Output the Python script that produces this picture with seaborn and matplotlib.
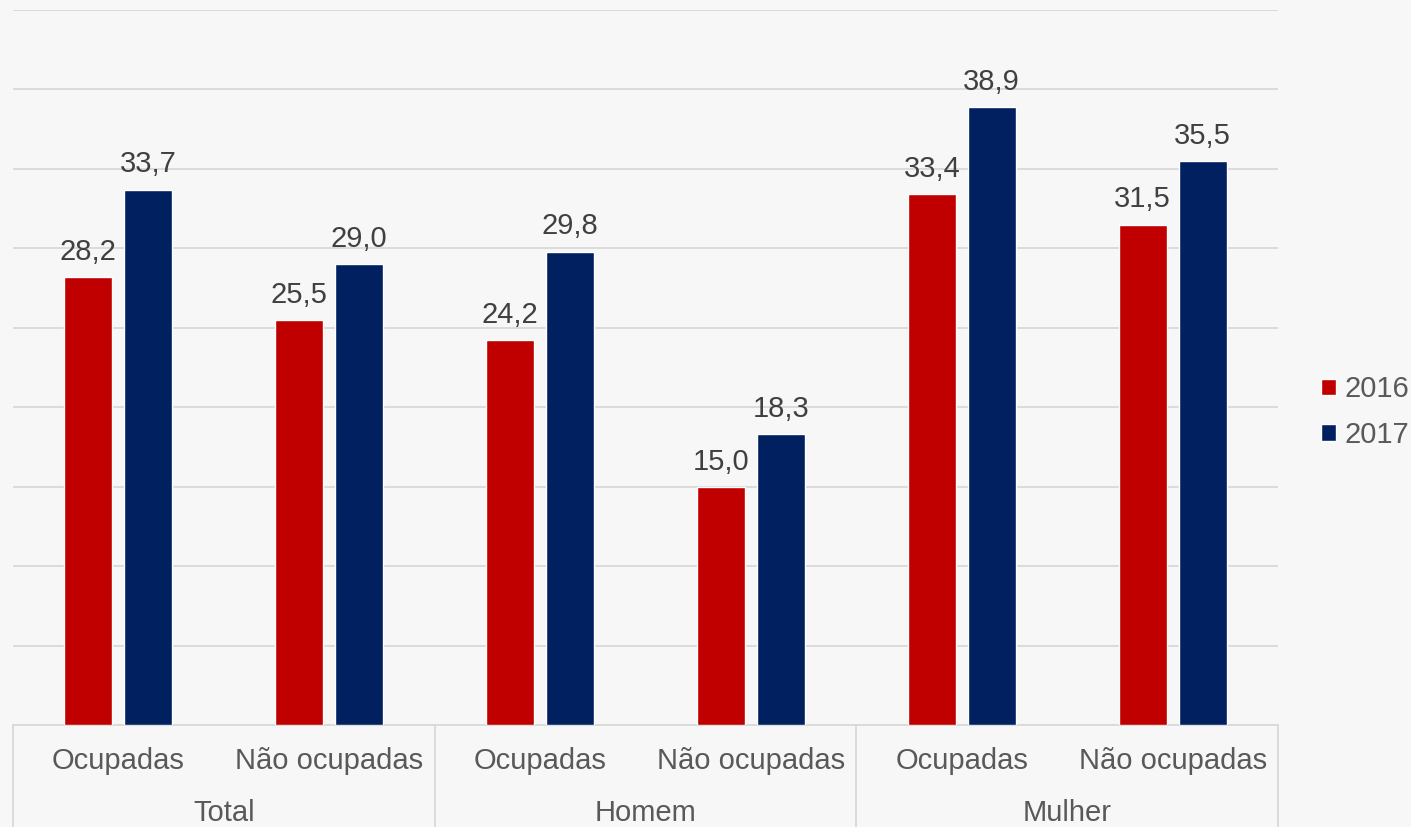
import pandas as pd
import matplotlib.pyplot as plt
import matplotlib.transforms as mtransforms
from matplotlib.patches import Patch
import seaborn as sns

# Dados
grupos = ['Total', 'Homem', 'Mulher']
situacoes = ['Ocupadas', 'Não ocupadas']
anos = ['2016', '2017']
valores_2016 = [28.2, 25.5, 24.2, 15.0, 33.4, 31.5]
valores_2017 = [33.7, 29.0, 29.8, 18.3, 38.9, 35.5]

cores = {'2016': '#c00000', '2017': '#002060'}
cinza_texto = '#595959'
cinza_rotulo = '#404040'
cinza_linha = '#d9d9d9'
fundo = '#f7f7f7'

# Montar tabela longa
chaves = [f'{g}|{s}' for g in grupos for s in situacoes]
df = pd.DataFrame({
    'chave': chaves * 2,
    'ano': ['2016'] * 6 + ['2017'] * 6,
    'valor': valores_2016 + valores_2017,
})

sns.set_style('white')
plt.rcParams['font.family'] = ['Liberation Sans', 'DejaVu Sans']

fig = plt.figure(figsize=(14.11, 8.27), dpi=100, facecolor=fundo)
ax = fig.add_axes([13 / 1411, 102 / 827, 1265 / 1411, 715 / 827])
ax.set_facecolor(fundo)

sns.barplot(data=df, x='chave', y='valor', hue='ano', order=chaves,
            hue_order=anos, palette=cores, width=0.569, gap=0.2,
            saturation=1, legend=False, ax=ax, zorder=3)

ax.set_ylim(0, 45)
ax.set_xlim(-0.5, len(chaves) - 0.5)
ax.set_yticks(range(0, 50, 5))
ax.yaxis.grid(True, color=cinza_linha, linewidth=1.3, zorder=0)
ax.set_axisbelow(True)
ax.tick_params(axis='y', left=False, labelleft=False)
ax.tick_params(axis='x', bottom=False, labelbottom=False)
ax.set_xlabel('')
ax.set_ylabel('')
for lado in ['top', 'right', 'left']:
    ax.spines[lado].set_visible(False)
ax.spines['bottom'].set_color(cinza_linha)
ax.spines['bottom'].set_linewidth(1.3)

# Rótulos de dados
for cont in ax.containers:
    ax.bar_label(cont, labels=[f'{b.get_height():.1f}'.replace('.', ',') for b in cont],
                 padding=8, fontsize=21, color=cinza_rotulo)

# Eixo de categorias em dois níveis
trans = mtransforms.blended_transform_factory(ax.transData, ax.transAxes)
for i, ch in enumerate(chaves):
    ax.text(i, -0.05, ch.split('|')[1], transform=trans, ha='center', va='center',
            fontsize=21, color=cinza_texto)
for j, g in enumerate(grupos):
    ax.text(2 * j + 0.5, -0.123, g, transform=trans, ha='center', va='center',
            fontsize=21, color=cinza_texto)
for x in [-0.5, 1.5, 3.5, 5.5]:
    ax.plot([x, x], [0, -0.15], transform=trans, color=cinza_linha,
            linewidth=1.3, clip_on=False)

# Legenda
handles = [Patch(facecolor=cores[a], label=a) for a in anos]
fig.legend(handles=handles, loc='center left', bbox_to_anchor=(1321 / 1411, 1 - 412 / 827),
           frameon=False, fontsize=21, labelcolor=cinza_texto, handlelength=0.5,
           handleheight=0.5, handletextpad=0.3, labelspacing=0.6,
           borderpad=0, borderaxespad=0)

fig.savefig('out.png', dpi=100, facecolor=fundo)
